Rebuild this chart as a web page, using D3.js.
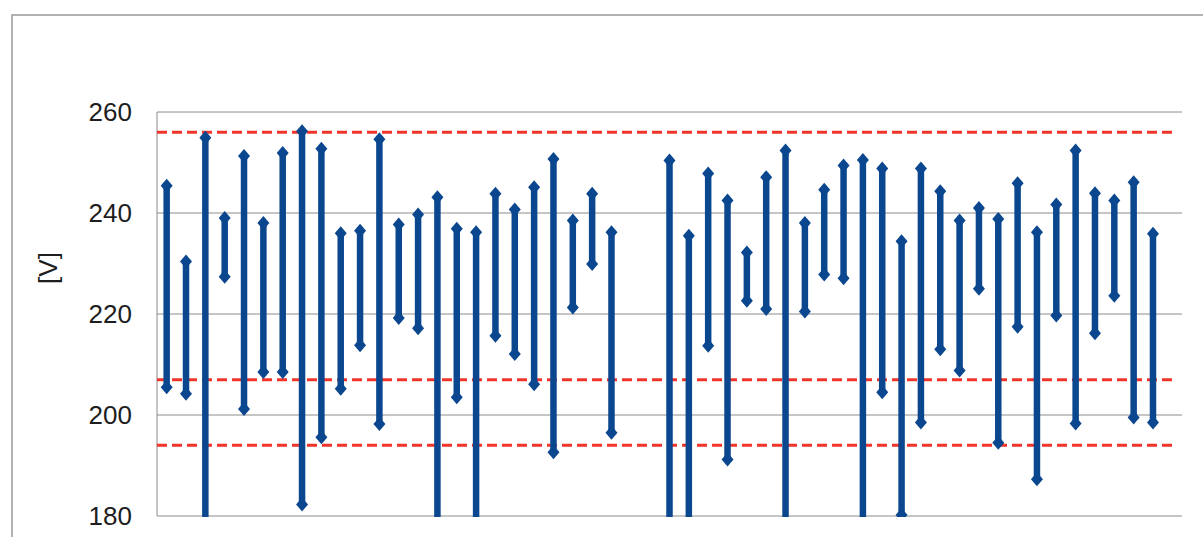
<!DOCTYPE html>
<html>
<head>
<meta charset="utf-8">
<script src="https://cdn.jsdelivr.net/npm/d3@7"></script>
<style>
  body { margin: 0; background: #fff; }
  svg { display: block; }
</style>
</head>
<body>
<svg id="chart" width="1203" height="537"></svg>
<script>
// 53 category slots, slots 24, 25 and 52 are empty
const slots = d3.range(53);
const highs = [
  245.4, 230.4, 254.9, 239.0, 251.3, 238.0, 251.9, 256.2, 252.7, 236.0,
  236.5, 254.6, 237.7, 239.7, 243.1, 236.9, 236.2, 243.8, 240.7, 245.1,
  250.7, 238.5, 243.8, 236.2, null, null, 250.4, 235.5, 247.8, 242.5,
  232.2, 247.1, 252.4, 238.0, 244.6, 249.4, 250.5, 248.8, 234.4, 248.8,
  244.3, 238.5, 241.0, 238.8, 245.9, 236.2, 241.7, 252.4, 243.9, 242.5,
  246.1, 235.9, null
];
const lows = [
  205.5, 204.2, 175.0, 227.4, 201.2, 208.5, 208.5, 182.3, 195.6, 205.2,
  213.8, 198.2, 219.2, 217.2, 175.0, 203.5, 175.0, 215.7, 212.1, 206.1,
  192.6, 221.3, 229.9, 196.5, null, null, 175.0, 175.0, 213.7, 191.2,
  222.6, 221.0, 175.0, 220.5, 227.8, 227.1, 175.0, 204.5, 180.2, 198.5,
  213.0, 208.8, 225.0, 194.5, 217.5, 187.3, 219.7, 198.3, 216.2, 223.6,
  199.5, 198.5, null
];
const limits = [256, 207, 194];
const yTicks = [180, 200, 220, 240, 260];

const svg = d3.select("#chart");
const margin = { top: 112, right: 21, bottom: 21, left: 157 };
const width = 1203, height = 537;

// outer frame
svg.append("path")
  .attr("d", `M12,${height} L12,15 L${width},15`)
  .attr("fill", "none")
  .attr("stroke", "#9a9a9a")
  .attr("stroke-width", 1.5);

const x = d3.scaleBand()
  .domain(slots)
  .range([margin.left, width - margin.right]);

const y = d3.scaleLinear()
  .domain([180, 260])
  .range([height - margin.bottom, margin.top]);

// gridlines
svg.append("g")
  .selectAll("line")
  .data(yTicks)
  .join("line")
  .attr("x1", margin.left)
  .attr("x2", width - margin.right)
  .attr("y1", (d) => y(d))
  .attr("y2", (d) => y(d))
  .attr("stroke", "#8c8c8c")
  .attr("stroke-width", 1);

// y axis line
svg.append("line")
  .attr("x1", margin.left)
  .attr("x2", margin.left)
  .attr("y1", y(260))
  .attr("y2", y(180))
  .attr("stroke", "#8c8c8c")
  .attr("stroke-width", 1);

// tick labels
svg.append("g")
  .selectAll("text")
  .data(yTicks)
  .join("text")
  .attr("x", 132)
  .attr("y", (d) => y(d))
  .attr("text-anchor", "end")
  .attr("dominant-baseline", "central")
  .style("font-family", "'Liberation Sans', Arial, sans-serif")
  .style("font-size", "26px")
  .style("fill", "#1e1e1e")
  .text((d) => d);

// axis title
svg.append("text")
  .attr("transform", "translate(48,268) rotate(-90)")
  .attr("text-anchor", "middle")
  .attr("dominant-baseline", "central")
  .style("font-family", "'Liberation Sans', Arial, sans-serif")
  .style("font-size", "26px")
  .style("fill", "#1e1e1e")
  .text("[V]");

// limit lines
svg.append("g")
  .selectAll("line")
  .data(limits)
  .join("line")
  .attr("x1", margin.left)
  .attr("x2", width - margin.right - 5)
  .attr("y1", (d) => y(d))
  .attr("y2", (d) => y(d))
  .attr("stroke", "#f2352a")
  .attr("stroke-width", 3)
  .attr("stroke-dasharray", "10,5");

svg.append("clipPath")
  .attr("id", "plot-clip")
  .append("rect")
  .attr("x", margin.left)
  .attr("y", margin.top - 12)
  .attr("width", width - margin.left - margin.right)
  .attr("height", y(180) - margin.top + 13);

const rows = slots
  .map((i) => ({ i, hi: highs[i], lo: lows[i] }))
  .filter((d) => d.hi != null && d.lo != null);

const cx = (d) => x(d.i) + x.bandwidth() / 2;
const blue = "#0b478f";

const bars = svg.append("g").attr("clip-path", "url(#plot-clip)");

bars.selectAll("line")
  .data(rows)
  .join("line")
  .attr("x1", cx)
  .attr("x2", cx)
  .attr("y1", (d) => y(d.hi))
  .attr("y2", (d) => y(d.lo))
  .attr("stroke", blue)
  .attr("stroke-width", 6.5);

// diamond marker, a bit wider than d3's default
const marker = {
  draw(ctx, size) {
    const w = Math.sqrt(size) * 0.6, h = Math.sqrt(size) * 0.7;
    ctx.moveTo(0, -h);
    ctx.lineTo(w, 0);
    ctx.lineTo(0, h);
    ctx.lineTo(-w, 0);
    ctx.closePath();
  },
};
const diamond = d3.symbol(marker, 100);
const ends = rows.flatMap((d) => [
  { i: d.i, v: d.hi },
  { i: d.i, v: d.lo },
]);

bars.selectAll("path")
  .data(ends)
  .join("path")
  .attr("d", diamond)
  .attr("transform", (d) => `translate(${cx(d)},${y(d.v)})`)
  .attr("fill", blue);
</script>
</body>
</html>
